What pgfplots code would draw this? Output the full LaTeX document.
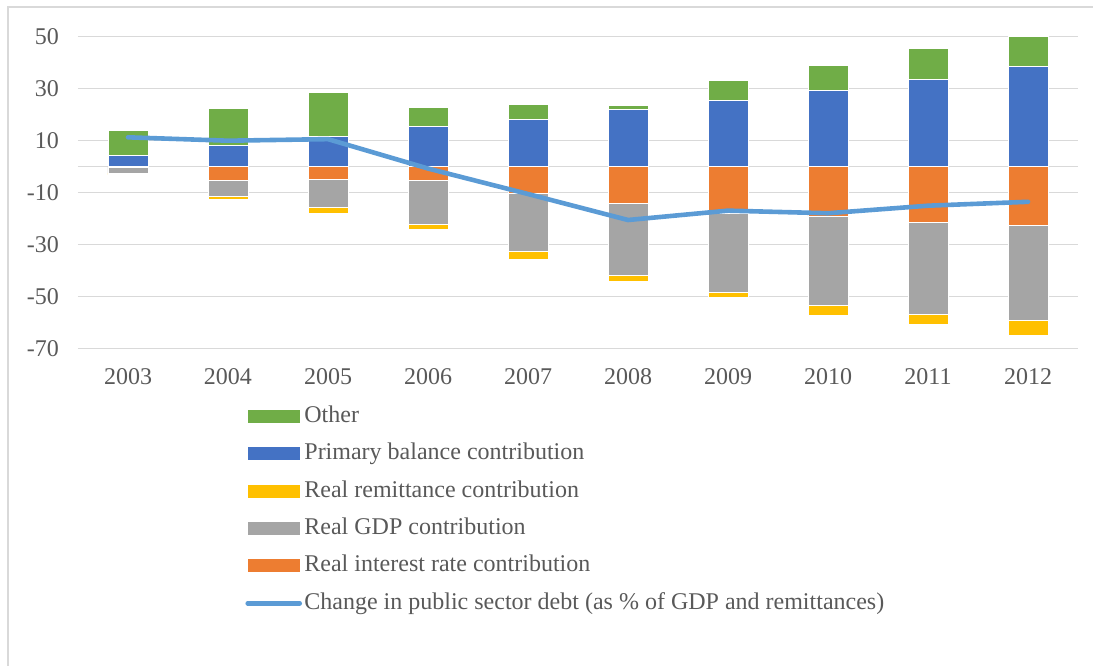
\documentclass[border=0pt]{standalone}
\usepackage{fontspec}
\setmainfont{Liberation Serif}
\usepackage{pgfplots}
\pgfplotsset{compat=1.18}
\usepackage{pgfplotstable}

\definecolor{cgreen}{HTML}{70AD47}
\definecolor{cblue}{HTML}{4472C4}
\definecolor{cyellow}{HTML}{FFC000}
\definecolor{cgray}{HTML}{A5A5A5}
\definecolor{corange}{HTML}{ED7D31}
\definecolor{cline}{HTML}{5B9BD5}
\definecolor{cgrid}{HTML}{D9D9D9}
\definecolor{ctext}{HTML}{595959}

\pgfplotstableread{
x interest gdp remit primary other change
0 -0.2 -2.3 -0.5 4.2 9.9 11.3
1 -5.1 -6.4 -0.9 8.0 14.4 10.0
2 -4.9 -10.7 -2.3 11.5 17.0 10.6
3 -5.2 -16.8 -2.1 15.4 7.3 -0.7
4 -10.1 -22.3 -3.1 18.2 5.7 -10.5
5 -14.1 -27.7 -2.5 21.9 1.7 -20.5
6 -17.9 -30.4 -2.1 25.5 7.7 -16.9
7 -19.2 -34.1 -3.7 29.2 9.6 -17.9
8 -21.4 -35.4 -3.8 33.5 12.0 -15.0
9 -22.6 -36.7 -5.7 38.5 11.5 -13.5
}\data

\pgfplotsset{
  base/.style={
    scale only axis, width=500pt, height=156pt,
    at={(39pt,-174.35pt)}, anchor=south west,
    xmin=-0.5, xmax=9.5, ymin=-70, ymax=50,
    clip=true,
  },
  barsty/.style={ybar stacked, bar width=20pt},
  swatch/.style={legend image code/.code={\fill[#1, draw=none] (0pt,-3.25pt) rectangle (26pt,3.25pt);}},
  linelegend/.style={legend image code/.code={\draw[#1] (0pt,0pt) -- (26pt,0pt);}},
}

\begin{document}
\begin{tikzpicture}
\useasboundingbox (0pt,0pt) rectangle (546.5pt,-332.5pt);
\draw[cgrid, line width=0.75pt] (4pt,-340pt) -- (4pt,-3.5pt) -- (560pt,-3.5pt);

% negative stack + grid + ticks
\begin{axis}[base, barsty,
    axis line style={draw=none},
    tick style={draw=none},
    ymajorgrids, grid style={cgrid, line width=0.75pt},
    ytick={-70,-50,-30,-10,10,30,50},
    yticklabels={-70,-50,-30,-10,10,30,50},
    extra y ticks={0}, extra y tick labels={},
    extra y tick style={grid=major, grid style={cgrid, line width=0.75pt}},
    xtick={0,...,9},
    xticklabels={2003,2004,2005,2006,2007,2008,2009,2010,2011,2012},
    tick label style={color=ctext, font=\fontsize{12}{14}\selectfont},
    yticklabel style={xshift=-6pt},
    xticklabel style={yshift=-6.5pt},
  ]
  \addplot[fill=corange, draw=white, line width=0.4pt] table[x=x, y=interest] {\data};
  \addplot[fill=cgray, draw=white, line width=0.4pt] table[x=x, y=gdp] {\data};
  \addplot[fill=cyellow, draw=white, line width=0.4pt] table[x=x, y=remit] {\data};
\end{axis}

% positive stack
\begin{axis}[base, barsty, hide axis]
  \addplot[fill=cblue, draw=white, line width=0.4pt] table[x=x, y=primary] {\data};
  \addplot[fill=cgreen, draw=white, line width=0.4pt] table[x=x, y=other] {\data};
\end{axis}

% line + legend
\begin{axis}[base, hide axis,
    legend style={at={(0.167,-0.1725)}, anchor=north west, draw=none, fill=none,
      font=\fontsize{12}{14}\selectfont, text=ctext,
      row sep=5.3pt, inner sep=0pt,
      nodes={inner sep=1.2pt, text height=8.5pt, text depth=2.5pt}},
    legend cell align=left,
  ]
  \addlegendimage{swatch, fill=cgreen}
  \addlegendentry{Other}
  \addlegendimage{swatch, fill=cblue}
  \addlegendentry{Primary balance contribution}
  \addlegendimage{swatch, fill=cyellow}
  \addlegendentry{Real remittance contribution}
  \addlegendimage{swatch, fill=cgray}
  \addlegendentry{Real GDP contribution}
  \addlegendimage{swatch, fill=corange}
  \addlegendentry{Real interest rate contribution}
  \addplot[cline, line width=2.3pt, line cap=round, line join=round, mark=none, linelegend]
    table[x=x, y=change] {\data};
  \addlegendentry{Change in public sector debt (as \% of GDP and remittances)}
\end{axis}
\end{tikzpicture}
\end{document}
